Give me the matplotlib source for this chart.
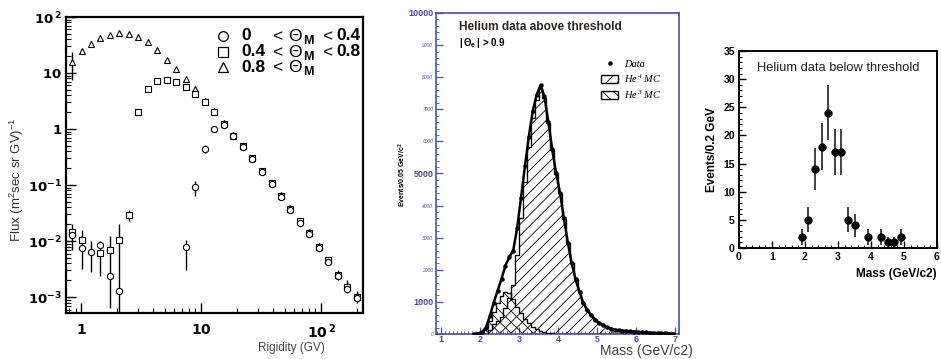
import numpy as np
import matplotlib.pyplot as plt
from matplotlib.lines import Line2D
from matplotlib.patches import Patch
from matplotlib.ticker import MultipleLocator, LogLocator, NullFormatter

plt.rcParams['font.family'] = ['Liberation Sans', 'DejaVu Sans']
plt.rcParams['hatch.linewidth'] = 0.6
plt.rcParams['mathtext.default'] = 'regular'

# Panel 1: flux vs rigidity for three Theta_M bins
rigidity = [0.84, 1.01, 1.21, 1.45, 1.74, 2.09, 2.51, 3.01, 3.61, 4.33, 5.20, 6.24, 7.49,
            8.99, 10.8, 12.9, 15.5, 18.6, 22.4, 26.8, 32.2, 38.7, 46.4, 55.7, 66.8, 80.2,
            96.2, 115, 139, 166, 200]
nan = np.nan
flux_low = [0.0129, 0.0075, 0.0063, 0.0085, 0.0024, 0.0013, nan, nan, nan, nan, nan, nan,
            0.0079, 0.091, 0.44, 1.0, 1.17, 0.75, 0.48, 0.29, 0.17, 0.105, 0.062, 0.036,
            0.021, 0.0135, 0.0075, 0.0043, 0.0024, 0.0014, 0.00095]
flux_mid = [0.0145, 0.0104, nan, 0.0061, 0.0069, 0.0104, 0.029, 2.0, 5.2, 7.2, 7.5, 6.9,
            5.6, 4.2, 3.0, 2.05, 1.25, 0.76, 0.49, 0.30, 0.175, 0.108, 0.064, 0.038,
            0.0225, 0.0142, 0.0079, 0.0045, 0.0025, 0.0015, 0.001]
flux_high = [15.7, 24.7, 33, 42, 48, 52, 50, 44, 35.6, 25.7, 17, 11.8, 7.8, 5.2, 3.2, 2.1,
             1.28, 0.78, 0.50, 0.30, 0.18, 0.11, 0.066, 0.039, 0.023, 0.0145, 0.0081,
             0.0046, 0.0025, 0.0016, 0.00105]
# error bars that stick out of the markers
bar_r = [0.84, 0.84, 1.01, 1.21, 1.45, 1.74, 2.09, 2.51, 7.49, 8.99, 10.8, 115, 139, 166, 200]
bar_lo = [7.5, 0.0069, 0.0032, 0.0028, 0.0024, 0.00064, 0.0005, 0.023, 0.0030, 0.063, 0.37,
          0.0038, 0.0020, 0.0012, 0.0008]
bar_hi = [23.7, 0.0198, 0.0157, 0.0100, 0.0100, 0.0123, 0.020, 0.036, 0.0104, 0.118, 0.52,
          0.0053, 0.0031, 0.0020, 0.0013]
legend_lo = ['0', '0.4', '0.8']
legend_hi = ['0.4', '0.8', '']

# Panel 2: mass distribution above threshold (0.1 GeV bins from 1.8 to 7.0)
mass_edges = np.round(np.arange(1.8, 7.05, 0.1), 2)
data_counts = [5, 15, 60, 200, 560, 980, 1350, 1720, 2130, 2400, 2600, 3300, 4250, 5230,
               6150, 6950, 7450, 7750, 7400, 6600, 5750, 5000, 4400, 3600, 2850, 2200, 1700,
               1300, 960, 750, 580, 450, 350, 270, 210, 170, 140, 120, 105, 95, 85, 75, 65,
               55, 48, 40, 33, 27, 21, 16, 12, 8]
he4_counts = [0, 0, 5, 10, 140, 300, 390, 540, 820, 1130, 1520, 2450, 3610, 4750, 5810,
              6720, 7300, 7650, 7340, 6560, 5720, 4980, 4390, 3595, 2850, 2200, 1700, 1300,
              960, 750, 580, 450, 350, 270, 210, 170, 140, 120, 105, 95, 85, 75, 65, 55, 48,
              40, 33, 27, 21, 16, 12, 8]
he3_counts = [5, 15, 55, 190, 420, 680, 960, 1180, 1310, 1270, 1080, 850, 640, 480, 340,
              230, 150, 100, 60, 40, 25, 15, 10, 5] + [0] * 28

# Panel 3: mass distribution below threshold
mass_below = [1.9, 2.1, 2.3, 2.5, 2.7, 2.9, 3.1, 3.3, 3.5, 3.9, 4.3, 4.5, 4.7, 4.9]
events_below = [2, 5, 14, 18, 24, 17, 17, 5, 4, 2, 2, 1, 1, 2]
err_below = [1.4, 2.2, 3.7, 4.2, 4.9, 4.1, 4.1, 2.2, 2.0, 1.4, 1.4, 1.0, 1.0, 1.4]

W, H = 941, 359
fig = plt.figure(figsize=(W / 100, H / 100), dpi=100)

def box(l, t, r, b):
    return [l / W, 1 - b / H, (r - l) / W, (b - t) / H]

# ---------------- left panel ----------------
ax1 = fig.add_axes(box(66, 17, 363, 313))
ax1.set_xscale('log')
ax1.set_yscale('log')
ax1.set_xlim(0.75, 224)
ax1.set_ylim(5.2e-4, 100)
ax1.vlines(bar_r, bar_lo, bar_hi, color='k', lw=1.0, zorder=2)
mk = dict(ls='none', mfc='white', mec='k', mew=0.8, ms=4.5, zorder=3)
ax1.plot(rigidity, flux_high, marker='^', **mk)
ax1.plot(rigidity, flux_mid, marker='s', **mk)
ax1.plot(rigidity, flux_low, marker='o', **mk)
for s in ax1.spines.values():
    s.set_linewidth(1.6)
ax1.tick_params(which='both', direction='in', top=False, right=False)
ax1.tick_params(which='major', length=7, width=1.0, labelsize=9.5, pad=3)
ax1.tick_params(which='minor', length=3.5, width=0.8)
ax1.tick_params(axis='x', pad=7, labelsize=10)
ax1.set_xticks([1, 10, 100])
ax1.set_xticklabels([r'$\mathbf{1}$', r'$\mathbf{10}$', r'$\mathbf{10^{\,2}}$'])
ax1.set_yticks([1e-3, 1e-2, 1e-1, 1, 10, 100])
ax1.set_yticklabels([r'$\mathbf{10^{-3}}$', r'$\mathbf{10^{-2}}$', r'$\mathbf{10^{-1}}$',
                     r'$\mathbf{1}$', r'$\mathbf{10}$', r'$\mathbf{10^{\,2}}$'])
ax1.yaxis.set_minor_locator(LogLocator(subs=np.arange(2, 10)))
ax1.yaxis.set_minor_formatter(NullFormatter())
ax1.xaxis.set_minor_formatter(NullFormatter())
fig.text(17 / W, 1 - 180 / H, 'Flux (m$^{2}$sec sr GV)$^{-1}$', rotation=90,
         fontsize=9.5, color='#333333', ha='center', va='center')
fig.text(325 / W, 1 - 348 / H, 'Rigidity (GV)', fontsize=8.5, color='#444444',
         ha='right', va='center')

rows_y = [36, 52, 67]
for mark, lo, hi, yy in zip(['o', 's', '^'], legend_lo, legend_hi, rows_y):
    fy = 1 - yy / H
    fig.add_artist(Line2D([223 / W], [fy], marker=mark, ls='none', mfc='white', mec='k',
                          mew=0.9, ms=7, transform=fig.transFigure))
    fig.text(241 / W, fy, lo, fontsize=12.5, fontweight='bold', va='center')
    fig.text(269 / W, fy, r'$<\,\Theta$', fontsize=12.5, va='center')
    fig.text(303 / W, fy - 5 / H, 'M', fontsize=9, fontweight='bold', va='center')
    if hi:
        fig.text(319 / W, fy, r'$<$', fontsize=12.5, va='center')
        fig.text(336 / W, fy, hi, fontsize=12.5, fontweight='bold', va='center')

# ---------------- middle panel ----------------
blue = '#4b4fa8'
ax2 = fig.add_axes(box(436, 13, 679, 334))
ax2.set_xlim(0.87, 7.1)
ax2.set_ylim(0, 10000)
ax2.stairs(he4_counts, mass_edges, fill=True, facecolor='none', edgecolor='k',
           hatch='///', lw=0.8, zorder=2)
ax2.stairs(he4_counts, mass_edges, color='k', lw=0.9, zorder=3)
ax2.stairs(he3_counts, mass_edges, fill=True, facecolor='none', edgecolor='k',
           hatch='\\\\\\', lw=0.8, zorder=2)
ax2.stairs(he3_counts, mass_edges, color='k', lw=0.9, zorder=3)
centers = (mass_edges[:-1] + mass_edges[1:]) / 2
ax2.plot(centers, data_counts, color='k', lw=1.8, zorder=4)
ax2.plot(centers, data_counts, 'o', color='k', ms=2.2, zorder=5)
for s in ax2.spines.values():
    s.set_color(blue)
    s.set_linewidth(1.2)
ax2.tick_params(which='both', direction='in', colors=blue, top=False, right=False)
ax2.tick_params(which='major', length=5, width=0.9, pad=2)
ax2.tick_params(axis='x', pad=1)
ax2.tick_params(which='minor', length=2.5, width=0.6)
ax2.set_xticks(range(1, 8))
ax2.set_xticklabels([str(v) for v in range(1, 8)], fontsize=6.5, fontweight='bold',
                    color=blue)
ax2.xaxis.set_minor_locator(MultipleLocator(0.1))
yt = list(range(0, 10001, 1000))
ax2.set_yticks(yt)
ax2.set_yticklabels([str(v) for v in yt], color=blue)
for v, lab in zip(yt, ax2.get_yticklabels()):
    if v in (1000, 5000, 10000):
        lab.set_fontsize(6.5)
        lab.set_fontweight('bold')
    else:
        lab.set_fontsize(3.5)
        lab.set_fontstyle('italic')
ax2.yaxis.set_minor_locator(MultipleLocator(200))
ax2.text(0.095, 0.955, 'Helium data above threshold', transform=ax2.transAxes,
         fontsize=8.6, fontweight='bold', color='#332222', va='center')
ax2.text(0.095, 0.905, r'$|\,\Theta_{e}\,|$ > 0.9', transform=ax2.transAxes,
         fontsize=7, fontweight='bold', va='center')
handles = [Line2D([], [], marker='o', ls='none', color='k', ms=2.2),
           Patch(facecolor='none', edgecolor='k', hatch='///'),
           Patch(facecolor='none', edgecolor='k', hatch='\\\\\\')]
ax2.legend(handles, ['Data', r'He$^{\,4}$ MC', r'He$^{\,3}$ MC'], loc='upper right',
           bbox_to_anchor=(0.955, 0.875), frameon=False, handlelength=1.6,
           handleheight=0.8, labelspacing=0.35, borderaxespad=0.2, handletextpad=0.6,
           prop=dict(family='Liberation Serif', style='italic', size=7.5))
fig.text(402 / W, 1 - 175 / H, 'Events/0.05 GeV/c$^{2}$', rotation=90, fontsize=5,
         fontweight='bold', ha='center', va='center')
fig.text(600 / W, 1 - 351 / H, 'Mass (GeV/c2)', fontsize=10, color='#404040',
         ha='left', va='center')

# ---------------- right panel ----------------
ax3 = fig.add_axes(box(739, 51, 937, 248))
ax3.set_xlim(0, 6)
ax3.set_ylim(0, 35)
ax3.errorbar(mass_below, events_below, yerr=err_below, fmt='o', color='k', ms=5,
             elinewidth=1.3, ecolor='#333333', capsize=0)
for s in ax3.spines.values():
    s.set_linewidth(1.4)
ax3.tick_params(which='both', direction='in', top=False, right=False)
ax3.tick_params(which='major', length=5, width=1.0, labelsize=7.5, pad=3)
ax3.tick_params(which='minor', length=2.5, width=0.8)
ax3.set_xticks(range(0, 7))
ax3.set_yticks(range(0, 36, 5))
ax3.set_xticklabels([str(v) for v in range(0, 7)], fontweight='bold')
ax3.set_yticklabels([str(v) for v in range(0, 36, 5)], fontweight='bold')
ax3.xaxis.set_minor_locator(MultipleLocator(0.2))
ax3.yaxis.set_minor_locator(MultipleLocator(1))
ax3.set_ylabel('Events/0.2 GeV', fontsize=8.5, fontweight='bold', labelpad=4)
ax3.set_xlabel('Mass (GeV/c2)', fontsize=8.5, fontweight='bold', loc='right', labelpad=4)
ax3.text(0.5, 0.915, 'Helium data below threshold', transform=ax3.transAxes,
         fontsize=9.3, ha='center', va='center', color='#222222')

fig.savefig('out.png', dpi=100)
